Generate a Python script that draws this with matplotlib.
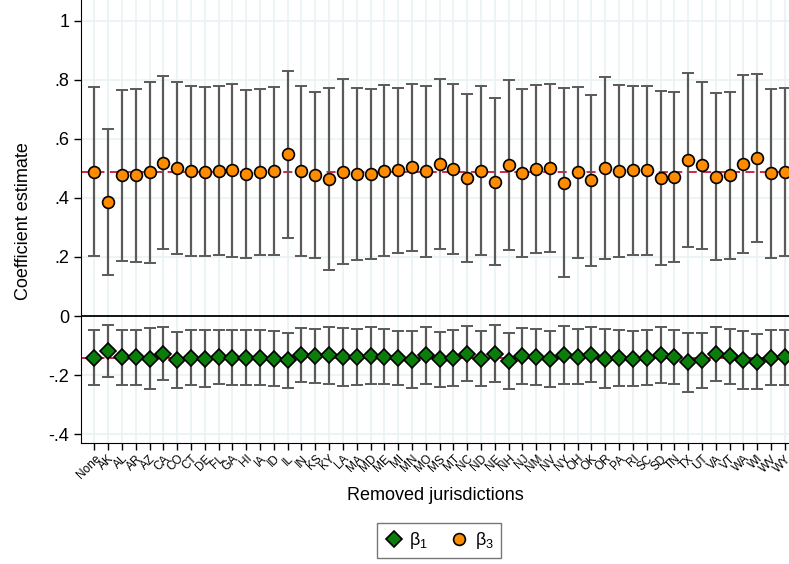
import matplotlib.pyplot as plt
import numpy as np

plt.rcParams['font.family'] = ['Liberation Sans', 'DejaVu Sans']
plt.rcParams['mathtext.fontset'] = 'custom'
plt.rcParams['mathtext.rm'] = 'Liberation Sans'
plt.rcParams['mathtext.it'] = 'Liberation Sans'

states = ["None", "AK", "AL", "AR", "AZ", "CA", "CO", "CT", "DE", "FL", "GA",
          "HI", "IA", "ID", "IL", "IN", "KS", "KY", "LA", "MA", "MD", "ME",
          "MI", "MN", "MO", "MS", "MT", "NC", "ND", "NE", "NH", "NJ", "NM",
          "NV", "NY", "OH", "OK", "OR", "PA", "RI", "SC", "SD", "TN", "TX",
          "UT", "VA", "VT", "WA", "WI", "WV", "WY"]

# beta_3 point estimates and lower CI bounds (CI symmetric)
b3 = [0.489, 0.387, 0.476, 0.477, 0.487, 0.519, 0.501, 0.492, 0.489, 0.492, 0.493,
      0.482, 0.487, 0.492, 0.548, 0.492, 0.476, 0.464, 0.488, 0.480, 0.481, 0.492,
      0.493, 0.503, 0.490, 0.514, 0.497, 0.468, 0.492, 0.455, 0.511, 0.485, 0.498,
      0.501, 0.451, 0.486, 0.460, 0.502, 0.490, 0.494, 0.494, 0.468, 0.470, 0.528,
      0.510, 0.471, 0.477, 0.515, 0.536, 0.484, 0.488]
b3_lo = [0.204, 0.140, 0.187, 0.184, 0.181, 0.226, 0.211, 0.204, 0.202, 0.206, 0.200,
         0.198, 0.206, 0.207, 0.265, 0.204, 0.195, 0.156, 0.175, 0.189, 0.194, 0.203,
         0.215, 0.219, 0.200, 0.227, 0.209, 0.183, 0.206, 0.173, 0.223, 0.201, 0.215,
         0.218, 0.131, 0.197, 0.171, 0.194, 0.199, 0.208, 0.208, 0.174, 0.183, 0.233,
         0.227, 0.188, 0.194, 0.215, 0.251, 0.198, 0.204]

# beta_1 point estimates and CI half-widths
b1 = [-0.141, -0.118, -0.140, -0.139, -0.144, -0.128, -0.148, -0.141, -0.144, -0.138, -0.141,
      -0.141, -0.141, -0.144, -0.150, -0.133, -0.136, -0.133, -0.139, -0.139, -0.134, -0.138,
      -0.141, -0.148, -0.133, -0.147, -0.141, -0.127, -0.144, -0.127, -0.153, -0.136, -0.139,
      -0.147, -0.131, -0.138, -0.131, -0.144, -0.141, -0.144, -0.141, -0.132, -0.138, -0.157,
      -0.150, -0.129, -0.136, -0.150, -0.155, -0.141, -0.140]
b1_hw = [0.094, 0.089, 0.093, 0.093, 0.104, 0.090, 0.095, 0.094, 0.095, 0.091, 0.094,
         0.094, 0.094, 0.094, 0.093, 0.091, 0.092, 0.097, 0.097, 0.095, 0.096, 0.093,
         0.091, 0.096, 0.096, 0.094, 0.095, 0.094, 0.094, 0.095, 0.095, 0.094, 0.094,
         0.095, 0.098, 0.093, 0.093, 0.100, 0.095, 0.094, 0.093, 0.095, 0.092, 0.099,
         0.093, 0.092, 0.093, 0.098, 0.093, 0.093, 0.094]

x = np.arange(len(states))
b3 = np.array(b3)
b3_hw = b3 - np.array(b3_lo)

fig = plt.figure(figsize=(7.89, 5.64), dpi=100)
ax = fig.add_axes([0.1027, 0.2145, 0.8973, 0.7855])

# grid
for xi in x:
    ax.axvline(xi, color='#eaf2f3', lw=1.2, zorder=0)
for yt in [-0.4, -0.2, 0.2, 0.4, 0.6, 0.8, 1.0]:
    ax.axhline(yt, color='#eaf2f3', lw=1.2, zorder=0)

# reference lines (baseline estimates)
ax.axhline(b3[0], color='#c8173c', lw=1.3, ls=(0, (5, 3)), zorder=1)
ax.axhline(b1[0], color='#c8173c', lw=1.3, ls=(0, (5, 3)), zorder=1)
ax.axhline(0, color='black', lw=1.3, zorder=1)

ax.errorbar(x, b3, yerr=b3_hw, fmt='none', ecolor='#5a5a5a', elinewidth=1.6,
            capsize=4, capthick=1.4, zorder=2)
ax.errorbar(x, b1, yerr=b1_hw, fmt='none', ecolor='#5a5a5a', elinewidth=1.6,
            capsize=4, capthick=1.4, zorder=2)
ax.plot(x, b1, 'D', color='#0a7d0a', mec='black', mew=1.2, ms=8, ls='none',
        zorder=3, label=r'$\beta_1$')
ax.plot(x, b3, 'o', color='#ff8c00', mec='black', mew=1.2, ms=8.5, ls='none',
        zorder=3, label=r'$\beta_3$')

ax.set_xlim(-0.96, 50.3)
ax.set_ylim(-0.43, 1.07)
ax.set_yticks([-0.4, -0.2, 0, 0.2, 0.4, 0.6, 0.8, 1.0])
ax.set_yticklabels(['-.4', '-.2', '0', '.2', '.4', '.6', '.8', '1'], fontsize=13)
ax.set_xticks(x)
ax.set_xticklabels(states, rotation=45, ha='right', rotation_mode='anchor', fontsize=8.5)
ax.tick_params(axis='both', direction='out', length=5, width=1)
ax.tick_params(axis='x', pad=2)
ax.spines['top'].set_visible(False)
ax.spines['right'].set_visible(False)
ax.set_ylabel('Coefficient estimate', fontsize=13, labelpad=12)
ax.set_xlabel('Removed jurisdictions', fontsize=13, labelpad=4)

leg = fig.legend(loc='lower center', bbox_to_anchor=(0.556, -0.006), ncol=2,
                 fontsize=13, frameon=True, fancybox=False, edgecolor='#555555',
                 handletextpad=0.3, columnspacing=1.2, handlelength=1.1,
                 borderpad=0.4)
leg.get_frame().set_linewidth(1.0)

fig.savefig('out.png', dpi=100)
